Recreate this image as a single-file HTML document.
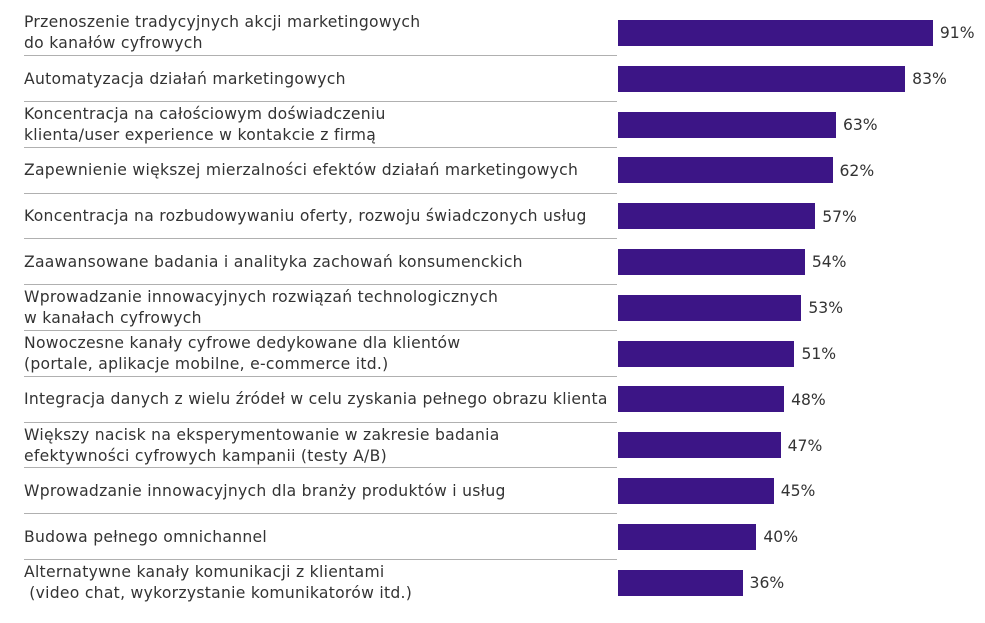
<!DOCTYPE html>
<html><head><meta charset="utf-8"><style>
body{margin:0;width:985px;height:623px;background:#fff;position:relative;overflow:hidden;font-family:"DejaVu Sans","Liberation Sans",sans-serif;color:#333}
.row{position:absolute;left:0;width:985px;height:45.8px}
.lab{position:absolute;left:24px;width:600px;top:0;height:100%;display:flex;align-items:center;font-size:15.6px;line-height:21px;letter-spacing:0.28px;white-space:nowrap}
.sep{position:absolute;left:24px;width:593px;bottom:0;height:1px;background:#b0b0b0}
.bar{position:absolute;left:618px;top:9.5px;height:26px;background:#3c1586}
.val{position:absolute;top:0;height:100%;display:flex;align-items:center;font-size:15.6px}
</style></head><body>
<div id="c"></div>
<script>
var d=[["Przenoszenie tradycyjnych akcji marketingowych<br>do kanałów cyfrowych",91],
["Automatyzacja działań marketingowych",83],
["Koncentracja na całościowym doświadczeniu<br>klienta/user experience w kontakcie z firmą",63],
["Zapewnienie większej mierzalności efektów działań marketingowych",62],
["Koncentracja na rozbudowywaniu oferty, rozwoju świadczonych usług",57],
["Zaawansowane badania i analityka zachowań konsumenckich",54],
["Wprowadzanie innowacyjnych rozwiązań technologicznych<br>w kanałach cyfrowych",53],
["Nowoczesne kanały cyfrowe dedykowane dla klientów<br>(portale, aplikacje mobilne, e-commerce itd.)",51],
["Integracja danych z wielu źródeł w celu zyskania pełnego obrazu klienta",48],
["Większy nacisk na eksperymentowanie w zakresie badania<br>efektywności cyfrowych kampanii (testy A/B)",47],
["Wprowadzanie innowacyjnych dla branży produktów i usług",45],
["Budowa pełnego omnichannel",40],
["Alternatywne kanały komunikacji z klientami<br>&nbsp;(video chat, wykorzystanie komunikatorów itd.)",36]];
var h="";
d.forEach(function(r,i){var w=r[1]*3.46;var top=10.5+i*45.8;
h+='<div class="row" style="top:'+top+'px"><div class="lab"><div>'+r[0]+'</div></div>'+(i<12?'<div class="sep"></div>':'')+
'<div class="bar" style="width:'+w+'px"></div><div class="val" style="left:'+(618+w+7)+'px">'+r[1]+'%</div></div>';});
document.getElementById("c").innerHTML=h;
</script>
</body></html>
